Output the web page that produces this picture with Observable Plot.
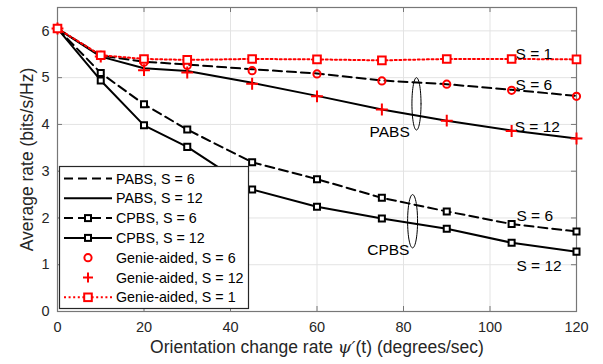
<!DOCTYPE html>
<html><head><meta charset="utf-8">
<script src="https://cdn.jsdelivr.net/npm/d3@7"></script>
<script src="https://cdn.jsdelivr.net/npm/@observablehq/plot@0.6"></script>
<style>
body{margin:0;background:#fff}
svg{font-family:"Liberation Sans",Arial,Helvetica,sans-serif}
</style>
</head><body><div id="chart"></div>
<script>
// ---- data ----
const rates   = [0, 10, 20, 30, 45, 60, 75, 90, 105, 120];
const pabs6   = [6.05, 5.47, 5.34, 5.28, 5.18, 5.09, 4.94, 4.86, 4.74, 4.61];
const pabs12  = [6.05, 5.45, 5.20, 5.14, 4.89, 4.61, 4.32, 4.08, 3.87, 3.70];
const cpbs6   = [6.05, 5.10, 4.43, 3.89, 3.19, 2.83, 2.43, 2.14, 1.87, 1.71];
const cpbs12  = [6.05, 4.94, 3.98, 3.52, 2.61, 2.24, 1.99, 1.77, 1.47, 1.28];
const genie6  = [6.05, 5.47, 5.33, 5.26, 5.15, 5.08, 4.93, 4.86, 4.73, 4.60];
const genie12 = [6.05, 5.45, 5.16, 5.11, 4.87, 4.60, 4.32, 4.08, 3.86, 3.70];
const genie1  = [6.05, 5.48, 5.40, 5.38, 5.40, 5.39, 5.37, 5.40, 5.40, 5.39];
const xTicks = [0, 20, 40, 60, 80, 100, 120];
const yTicks = [0, 1, 2, 3, 4, 5, 6];
const xLabel = ["Orientation change rate ", "ψ′", "(t) (degrees/sec)"];
const yLabel = "Average rate (bits/s/Hz)";
const legendLabels = ["PABS, S = 6", "PABS, S = 12", "CPBS, S = 6", "CPBS, S = 12",
  "Genie-aided, S = 6", "Genie-aided, S = 12", "Genie-aided, S = 1"];
const sLabels = [
  {x: 105.9, y: 5.50, text: "S = 1"},
  {x: 105.9, y: 4.84, text: "S = 6"},
  {x: 105.7, y: 3.95, text: "S = 12"},
  {x: 106.1, y: 2.04, text: "S = 6"},
  {x: 106.1, y: 0.98, text: "S = 12"}
];
const groupLabels = [
  {x: 76.8, y: 3.84, text: "PABS"},
  {x: 76.5, y: 1.32, text: "CPBS"}
];
const ellipses = [
  {cx: 83.0, cy: 4.44, rx: 1.05, ry: 0.56},
  {cx: 82.1, cy: 1.93, rx: 1.15, ry: 0.57}
];

const pts = (ys) => rates.map((x, i) => ({x, y: ys[i]}));
const ellipsePts = ellipses.flatMap((e, k) => d3.range(0, 61).map(i => {
  const t = i / 60 * 2 * Math.PI;
  return {k, x: e.cx + e.rx * Math.cos(t), y: e.cy + e.ry * Math.sin(t)};
}));

const W = 603, H = 364, mL = 57, mR = 27, mT = 7, mB = 53;
const iW = W - mL - mR, iH = H - mT - mB;
const red = "#ff0000";

const plot = Plot.plot({
  width: W, height: H,
  marginLeft: mL, marginRight: mR, marginTop: mT, marginBottom: mB,
  style: {fontFamily: '"Liberation Sans",Arial,Helvetica,sans-serif', fontSize: "14.5px", color: "#262626", background: "#fff"},
  x: {domain: [0, 120]},
  y: {domain: [0, 6.5]},
  marks: [
    Plot.gridX(xTicks, {stroke: "#e3e3e3", strokeOpacity: 1}),
    Plot.gridY(yTicks, {stroke: "#e3e3e3", strokeOpacity: 1}),
    Plot.tickX(xTicks, {x: d => d, insetTop: iH - 5, stroke: "#777"}),
    Plot.tickX(xTicks, {x: d => d, insetBottom: iH - 5, stroke: "#777"}),
    Plot.tickY(yTicks, {y: d => d, insetRight: iW - 5, stroke: "#777"}),
    Plot.tickY(yTicks, {y: d => d, insetLeft: iW - 5, stroke: "#777"}),
    Plot.frame({stroke: "#777", strokeWidth: 1.2}),
    Plot.line(pts(cpbs6), {x: "x", y: "y", stroke: "black", strokeWidth: 2, strokeDasharray: "9,5"}),
    Plot.line(pts(cpbs12), {x: "x", y: "y", stroke: "black", strokeWidth: 2}),
    Plot.line(pts(pabs6), {x: "x", y: "y", stroke: "black", strokeWidth: 2, strokeDasharray: "9,5"}),
    Plot.line(pts(pabs12), {x: "x", y: "y", stroke: "black", strokeWidth: 2}),
    Plot.dot(pts(cpbs6), {x: "x", y: "y", symbol: "square", r: 3.4, stroke: "black", fill: "white", strokeWidth: 2}),
    Plot.dot(pts(cpbs12), {x: "x", y: "y", symbol: "square", r: 3.4, stroke: "black", fill: "white", strokeWidth: 2}),
    Plot.dot(pts(genie6), {x: "x", y: "y", symbol: "circle", r: 3.6, stroke: red, fill: "none", strokeWidth: 2}),
    Plot.dot(pts(genie12), {x: "x", y: "y", symbol: "plus", r: 3.9, stroke: red, strokeWidth: 2}),
    Plot.line(pts(genie1), {x: "x", y: "y", stroke: red, strokeWidth: 2, strokeDasharray: "2,2.6"}),
    Plot.dot(pts(genie1), {x: "x", y: "y", symbol: "square", r: 4.3, stroke: red, fill: "white", strokeWidth: 2}),
    Plot.line(ellipsePts, {x: "x", y: "y", z: "k", stroke: "black", strokeWidth: 1}),
    Plot.text(sLabels, {x: "x", y: "y", text: "text", textAnchor: "start", fontSize: 15.5, fill: "black"}),
    Plot.text(groupLabels, {x: "x", y: "y", text: "text", textAnchor: "middle", fontSize: 15.5, fill: "black"}),
    Plot.axisX(xTicks, {tickSize: 0, tickPadding: 10, fontSize: 14.5, label: xLabel.join(""), labelAnchor: "center", labelOffset: 41}),
    Plot.axisY(yTicks, {tickSize: 0, tickPadding: 8, fontSize: 14.5, label: yLabel, labelAnchor: "center", labelOffset: 37})
  ]
});
document.getElementById("chart").appendChild(plot);

// axis label text (no arrows, italic psi)
const svg = d3.select(plot);
svg.selectAll('g[aria-label="x-axis label"] text, g[aria-label="y-axis label"] text')
  .attr("font-size", 17.5).attr("fill", "#262626");
svg.selectAll('g[aria-label="y-axis label"] text').text(yLabel);
svg.selectAll('g[aria-label="x-axis label"] text').each(function() {
  const t = d3.select(this);
  t.text(null);
  t.append("tspan").text(xLabel[0]);
  t.append("tspan").attr("font-family", '"DejaVu Serif",serif').attr("font-style", "italic").text(xLabel[1]);
  t.append("tspan").text(xLabel[2]);
});

// legend
const lx = 59, ly = 166, lw = 189, lh = 142, rowH = 19.8, row0 = 178.5;
const g = svg.append("g").attr("text-anchor", "start");
g.append("rect").attr("x", lx + 0.5).attr("y", ly + 0.5).attr("width", lw).attr("height", lh)
  .attr("fill", "white").attr("stroke", "#262626").attr("stroke-width", 1.2);
const styles = [
  {stroke: "black", dash: "9,5"}, {stroke: "black"},
  {stroke: "black", dash: "9,5", marker: "sqk"}, {stroke: "black", marker: "sqk"},
  {marker: "circ"}, {marker: "plus"}, {stroke: red, dash: "2,2.6", marker: "sqr"}
];
legendLabels.forEach((lab, i) => {
  const y = row0 + i * rowH, s = styles[i];
  if (s.stroke) g.append("line").attr("x1", 64).attr("x2", 112).attr("y1", y).attr("y2", y)
    .attr("stroke", s.stroke).attr("stroke-width", 2).attr("stroke-dasharray", s.dash || null);
  const cx = 88;
  if (s.marker === "sqk") g.append("rect").attr("x", cx - 3).attr("y", y - 3).attr("width", 6).attr("height", 6)
    .attr("fill", "white").attr("stroke", "black").attr("stroke-width", 2);
  if (s.marker === "sqr") g.append("rect").attr("x", cx - 3.8).attr("y", y - 3.8).attr("width", 7.6).attr("height", 7.6)
    .attr("fill", "white").attr("stroke", red).attr("stroke-width", 2);
  if (s.marker === "circ") g.append("circle").attr("cx", cx).attr("cy", y).attr("r", 3.6)
    .attr("fill", "none").attr("stroke", red).attr("stroke-width", 2);
  if (s.marker === "plus") g.append("path").attr("d", `M${cx-5},${y}H${cx+5}M${cx},${y-5}V${y+5}`)
    .attr("stroke", red).attr("stroke-width", 2);
  g.append("text").attr("x", 116).attr("y", y).attr("dy", "0.35em").attr("font-size", 14.3)
    .attr("text-anchor", "start").attr("fill", "black").text(lab);
});
</script>
</body></html>
